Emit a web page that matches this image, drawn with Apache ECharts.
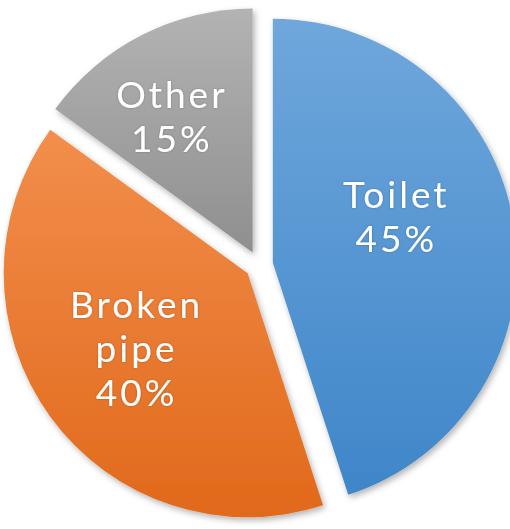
<!DOCTYPE html>
<html>
<head>
<meta charset="utf-8">
<script src="https://cdn.jsdelivr.net/npm/echarts@6/dist/echarts.min.js"></script>
<style>
	html, body { margin: 0; padding: 0; background: #fff; }
	#main { width: 510px; height: 529px; }
	#main text { letter-spacing: 3px; }
</style>
</head>
<body>
<div id="main"></div>
<script>
var categories = ['Toilet', 'Broken pipe', 'Other'];
var values = [45, 40, 15];
var topColors = ['#6fa7dc', '#f28e4c', '#b3b3b3'];
var bottomColors = ['#3f86c9', '#e1691b', '#8f8f8f'];
// label nudges from the default inside spot
var labelShift = [[0, -28], [-10, 1], [-24, -26]];

var chart = echarts.init(document.getElementById('main'), null, { renderer: 'svg' });

var pieData = categories.map(function(name, i) {
	return {
		name: name,
		value: values[i],
		selected: true,
		itemStyle: {
			color: new echarts.graphic.LinearGradient(0, 0, 0, 1, [
				{ offset: 0, color: topColors[i] },
				{ offset: 1, color: bottomColors[i] }
			])
		}
	};
});

chart.setOption({
	animation: false,
	series: [{
		type: 'pie',
		center: [259, 265],
		radius: [0, 244],
		startAngle: 90,
		clockwise: true,
		selectedMode: 'multiple',
		selectedOffset: 14,
		avoidLabelOverlap: false,
		itemStyle: {
			shadowBlur: 6,
			shadowOffsetX: 2,
			shadowOffsetY: 3,
			shadowColor: 'rgba(0,0,0,0.3)'
		},
		select: {
			itemStyle: { borderWidth: 0 }
		},
		emphasis: { disabled: true },
		label: {
			show: true,
			position: 'inside',
			color: '#fff',
			fontFamily: 'Lato',
			fontSize: 37,
			lineHeight: 44,
			textShadowColor: 'rgba(0,0,0,0.25)',
			textShadowBlur: 2,
			formatter: function(p) {
				return p.name.replace(' ', '\n') + '\n' + p.value + '%';
			}
		},
		labelLine: { show: false },
		labelLayout: function(params) {
			var s = labelShift[params.dataIndex];
			return { dx: s[0], dy: s[1] };
		},
		data: pieData
	}]
});
</script>
</body>
</html>
